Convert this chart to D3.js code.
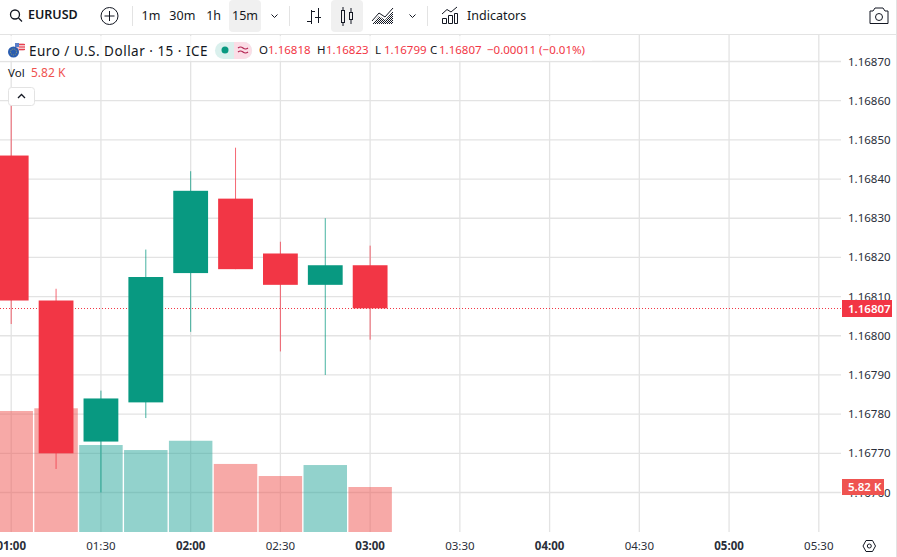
<!DOCTYPE html>
<html>
<head>
<meta charset="utf-8">
<script src="https://cdn.jsdelivr.net/npm/d3@7"></script>
<style>
  html, body { margin: 0; padding: 0; background: #fff; }
  svg { display: block; }
  text { font-family: "Noto Sans", sans-serif; fill: #131722; }
</style>
</head>
<body>
<div id="chart"></div>
<script>
// candle data, 15 min bars
var barHours = ["01:00", "01:15", "01:30", "01:45", "02:00", "02:15", "02:30", "02:45", "03:00"];
var opens = [1.16846, 1.16809, 1.16773, 1.16783, 1.16816, 1.16835, 1.16821, 1.16813, 1.16818];
var highs = [1.16862, 1.16812, 1.16786, 1.16822, 1.16842, 1.16848, 1.16824, 1.16830, 1.16823];
var lows = [1.16803, 1.16766, 1.16760, 1.16779, 1.16801, 1.16817, 1.16796, 1.16790, 1.16799];
var closes = [1.16809, 1.16770, 1.16784, 1.16815, 1.16837, 1.16817, 1.16813, 1.16818, 1.16807];
var volumes = [15.65, 16.0, 11.25, 10.6, 11.8, 8.8, 7.24, 8.66, 5.82];

var priceTicks = [1.16870, 1.16860, 1.16850, 1.16840, 1.16830, 1.16820, 1.16810, 1.16800, 1.16790, 1.16780, 1.16770, 1.16760];
var timeTicks = ["01:00", "01:30", "02:00", "02:30", "03:00", "03:30", "04:00", "04:30", "05:00", "05:30"];
var boldTimes = ["01:00", "02:00", "03:00", "04:00", "05:00"];
var intervals = ["1m", "30m", "1h", "15m"];

var lastClose = 1.16807;
var lastVolume = 5.82;

var svgWidth = 897;
var svgHeight = 557;
var paneRight = 841;
var paneTop = 35;
var paneBottom = 532;

var red = "#F23645";
var green = "#089981";
var volRed = "#EF5350";
var volGreen = "#26A69A";
var gridColor = "#e3e3e3";
var axisText = "#2a2e39";

var svg = d3.select("#chart").append("svg")
  .attr("width", svgWidth)
  .attr("height", svgHeight);

function toTime(s) {
  var p = s.split(":");
  return Date.UTC(2024, 0, 1, +p[0], +p[1]);
}

// scales, fitted to the picture
var xScale = d3.scaleUtc()
  .domain([toTime("01:00"), toTime("05:30")])
  .range([11.2, 818.8]);

var yScale = d3.scaleLinear()
  .domain([1.16760, 1.16870])
  .range([492.5, 61.5]);

var volScale = d3.scaleLinear()
  .domain([0, lastVolume])
  .range([paneBottom, 487]);

var barStep = xScale(toTime("01:15")) - xScale(toTime("01:00"));

// hatch for the area style icon
var hatch = svg.append("defs").append("pattern")
  .attr("id", "hatch")
  .attr("width", 2)
  .attr("height", 2)
  .attr("patternUnits", "userSpaceOnUse");
hatch.append("rect").attr("width", 1).attr("height", 1).attr("fill", "#131722");
hatch.append("rect").attr("x", 1).attr("y", 1).attr("width", 1).attr("height", 1).attr("fill", "#131722");

// grid
var gridGroup = svg.append("g").attr("class", "grid");

gridGroup.selectAll("line.h")
  .data(priceTicks)
  .enter()
  .append("line")
  .attr("class", "h")
  .attr("x1", 0)
  .attr("x2", paneRight)
  .attr("y1", d => yScale(d))
  .attr("y2", d => yScale(d))
  .attr("stroke", gridColor)
  .attr("stroke-width", 1.3);

gridGroup.selectAll("line.v")
  .data(timeTicks)
  .enter()
  .append("line")
  .attr("class", "v")
  .attr("x1", d => xScale(toTime(d)))
  .attr("x2", d => xScale(toTime(d)))
  .attr("y1", paneTop)
  .attr("y2", paneBottom)
  .attr("stroke", gridColor)
  .attr("stroke-width", 1.3);

// volume bars
svg.append("g").selectAll("rect")
  .data(barHours)
  .enter()
  .append("rect")
  .attr("x", d => xScale(toTime(d)) - barStep / 2 + 0.7)
  .attr("width", barStep - 1.4)
  .attr("y", (d, i) => volScale(volumes[i]))
  .attr("height", (d, i) => paneBottom - volScale(volumes[i]))
  .attr("fill", (d, i) => closes[i] < opens[i] ? volRed : volGreen)
  .attr("opacity", 0.5);

// last price line
svg.append("line")
  .attr("x1", 0)
  .attr("x2", paneRight)
  .attr("y1", Math.round(yScale(lastClose)) + 0.5)
  .attr("y2", Math.round(yScale(lastClose)) + 0.5)
  .attr("stroke", red)
  .attr("stroke-dasharray", "1 2");

// candles
var candles = svg.append("g").selectAll("g")
  .data(barHours)
  .enter()
  .append("g")
  .attr("fill", (d, i) => closes[i] < opens[i] ? red : green)
  .attr("stroke", (d, i) => closes[i] < opens[i] ? red : green);

candles.append("line")
  .attr("x1", d => xScale(toTime(d)))
  .attr("x2", d => xScale(toTime(d)))
  .attr("y1", (d, i) => yScale(highs[i]))
  .attr("y2", (d, i) => yScale(lows[i]))
  .attr("stroke-opacity", 0.75);

candles.append("rect")
  .attr("x", d => xScale(toTime(d)) - 17.4)
  .attr("width", 34.8)
  .attr("y", (d, i) => yScale(Math.max(opens[i], closes[i])))
  .attr("height", (d, i) => Math.abs(yScale(opens[i]) - yScale(closes[i])))
  .attr("stroke", "none");

// price axis
var priceAxis = svg.append("g");
priceAxis.append("rect")
  .attr("x", paneRight)
  .attr("y", paneTop)
  .attr("width", svgWidth - paneRight - 1)
  .attr("height", svgHeight - paneTop)
  .attr("fill", "#fff");

priceAxis.selectAll("text")
  .data(priceTicks)
  .enter()
  .append("text")
  .attr("x", 848)
  .attr("y", d => yScale(d) + 4)
  .attr("font-size", 11.5)
  .style("fill", axisText)
  .text(d => d.toFixed(5));

// last price and volume labels
svg.append("rect")
  .attr("x", 842)
  .attr("y", Math.round(yScale(lastClose)) - 8)
  .attr("width", 50)
  .attr("height", 17)
  .attr("fill", red);
svg.append("text")
  .attr("x", 848)
  .attr("y", yScale(lastClose) + 4.5)
  .attr("font-size", 11.5)
  .attr("font-weight", 600)
  .style("fill", "#fff")
  .text(lastClose.toFixed(5));

svg.append("rect")
  .attr("x", 842)
  .attr("y", volScale(lastVolume) - 8)
  .attr("width", 42)
  .attr("height", 16)
  .attr("fill", volRed);
svg.append("text")
  .attr("x", 848)
  .attr("y", volScale(lastVolume) + 4)
  .attr("font-size", 11.5)
  .attr("font-weight", 600)
  .style("fill", "#fff")
  .text(lastVolume + " K");

// time axis
svg.append("rect")
  .attr("x", 0)
  .attr("y", paneBottom)
  .attr("width", paneRight)
  .attr("height", svgHeight - paneBottom)
  .attr("fill", "#fff");

svg.append("g").selectAll("text")
  .data(timeTicks)
  .enter()
  .append("text")
  .attr("x", d => xScale(toTime(d)))
  .attr("y", 550)
  .attr("text-anchor", "middle")
  .attr("font-size", 11.5)
  .attr("font-weight", d => boldTimes.includes(d) ? 700 : 400)
  .style("fill", axisText)
  .text(d => d);

// settings hexagon
svg.append("path")
  .attr("d", "M863 546 L866 540.5 L872.5 540.5 L875.5 546 L872.5 551.5 L866 551.5 Z")
  .attr("fill", "none")
  .attr("stroke", "#131722");
svg.append("circle")
  .attr("cx", 869.3)
  .attr("cy", 546)
  .attr("r", 2)
  .attr("fill", "none")
  .attr("stroke", "#131722");

// right and top borders
svg.append("line").attr("x1", 896.5).attr("x2", 896.5).attr("y1", 0).attr("y2", svgHeight).attr("stroke", gridColor);
svg.append("line").attr("x1", 0).attr("x2", svgWidth).attr("y1", 34.5).attr("y2", 34.5).attr("stroke", gridColor);

// toolbar
var bar = svg.append("g");

bar.append("circle").attr("cx", 15).attr("cy", 14.5).attr("r", 4.5).attr("fill", "none").attr("stroke", "#131722").attr("stroke-width", 1.3);
bar.append("line").attr("x1", 18.5).attr("y1", 18).attr("x2", 22).attr("y2", 21.5).attr("stroke", "#131722").attr("stroke-width", 1.3);
bar.append("text").attr("x", 28).attr("y", 19).attr("font-size", 12.5).attr("font-weight", 600).text("EURUSD");

bar.append("circle").attr("cx", 109.5).attr("cy", 16).attr("r", 8.5).attr("fill", "none").attr("stroke", "#131722");
bar.append("path").attr("d", "M104.5 16 H114.5 M109.5 11 V21").attr("stroke", "#131722");

bar.append("line").attr("x1", 132.5).attr("x2", 132.5).attr("y1", 6).attr("y2", 26).attr("stroke", gridColor);

var intervalX = d3.scalePoint().domain(intervals).range([151, 245]);
bar.append("rect").attr("x", 229).attr("y", 0).attr("width", 32).attr("height", 32).attr("rx", 4).attr("fill", "#f0f0f0");
bar.selectAll("text.iv")
  .data(intervals)
  .enter()
  .append("text")
  .attr("class", "iv")
  .attr("x", d => intervalX(d))
  .attr("y", 20)
  .attr("text-anchor", "middle")
  .attr("font-size", 12.5)
  .text(d => d);

function chevron(cx, cy) {
  bar.append("path")
    .attr("d", `M${cx - 3} ${cy - 1.5} L${cx} ${cy + 1.5} L${cx + 3} ${cy - 1.5}`)
    .attr("fill", "none")
    .attr("stroke", "#131722");
}
chevron(274.5, 16);
bar.append("line").attr("x1", 289.5).attr("x2", 289.5).attr("y1", 6).attr("y2", 26).attr("stroke", gridColor);

// bar style icon
bar.append("path")
  .attr("d", "M311.5 10 V24 M307 21.5 H311.5 M311.5 11.5 H315 M318.5 8 V23 M315 17.5 H321")
  .attr("fill", "none")
  .attr("stroke", "#131722");

// candle style icon, selected
bar.append("rect").attr("x", 331).attr("y", 0).attr("width", 32).attr("height", 32).attr("rx", 4).attr("fill", "#f0f0f0");
bar.append("rect").attr("x", 341.5).attr("y", 10.5).attr("width", 3).attr("height", 12).attr("fill", "none").attr("stroke", "#131722");
bar.append("rect").attr("x", 349.5).attr("y", 12.5).attr("width", 3).attr("height", 7).attr("fill", "none").attr("stroke", "#131722");
bar.append("path").attr("d", "M343 7 V10 M343 23 V26 M351 8 V12 M351 20 V24").attr("stroke", "#131722");

// area style icon
bar.append("path").attr("d", "M372 24 L379 16 L385 20 L393 11 V24 Z").attr("fill", "url(#hatch)");
bar.append("path").attr("d", "M372 21 L379 13 L385 17 L393 8").attr("fill", "none").attr("stroke", "#131722");
chevron(412.5, 16);
bar.append("line").attr("x1", 427.5).attr("x2", 427.5).attr("y1", 6).attr("y2", 26).attr("stroke", gridColor);

// indicators icon
bar.append("path")
  .attr("d", "M442.5 23.5 V18.5 H446.5 V23.5 Z M448.5 23.5 V15.5 H452.5 V23.5 Z M454.5 23.5 V13.5 H457.5 V23.5 Z M442 14 L447 9.5 L451 12 L457 7")
  .attr("fill", "none")
  .attr("stroke", "#131722");
bar.append("text").attr("x", 467).attr("y", 20).attr("font-size", 12.5).text("Indicators");

// camera icon
bar.append("path")
  .attr("d", "M870 11 H873 L875 8 H883 L885 11 H888 V23.5 H870 Z")
  .attr("fill", "none")
  .attr("stroke", "#131722");
bar.append("circle").attr("cx", 879).attr("cy", 17).attr("r", 3.5).attr("fill", "none").attr("stroke", "#131722");

// legend row, the grid shows faintly through its backdrop
var legend = svg.append("g");
legend.append("rect").attr("x", 0).attr("y", 36).attr("width", 592).attr("height", 25).attr("fill", "#fff").attr("opacity", 0.75);

// flag pair
legend.append("rect").attr("x", 15).attr("y", 43).attr("width", 10).attr("height", 8).attr("rx", 2).attr("fill", "#f4c3c8");
legend.append("path").attr("d", "M17 44.5 H25 M19 47 H25 M19 49.5 H25").attr("stroke", "#e8404f").attr("stroke-width", 1.1);
legend.append("rect").attr("x", 15).attr("y", 43).attr("width", 4).attr("height", 4).attr("fill", "#5b7fc9");
legend.append("circle").attr("cx", 13.5).attr("cy", 52).attr("r", 5.5).attr("fill", "#2a5db0");
legend.append("circle").attr("cx", 13.5).attr("cy", 52).attr("r", 3).attr("fill", "none").attr("stroke", "#c8b94a").attr("stroke-width", 0.7).attr("stroke-dasharray", "1 1");

legend.append("text").attr("x", 29).attr("y", 55.5).attr("font-size", 13.5).attr("letter-spacing", 0.5).text("Euro / U.S. Dollar · 15 · ICE");

legend.append("rect").attr("x", 215).attr("y", 42).attr("width", 37).attr("height", 17).attr("rx", 8.5).attr("fill", "#daf0ed");
legend.append("path").attr("d", "M234 42 H243.5 A8.5 8.5 0 0 1 243.5 59 H234 Z").attr("fill", "#fbdde6");
legend.append("circle").attr("cx", 225).attr("cy", 50).attr("r", 3.5).attr("fill", green);
legend.append("path").attr("d", "M238 48 Q240.5 46 243 48 T248 48 M238 52 Q240.5 50 243 52 T248 52").attr("fill", "none").attr("stroke", "#b2224f").attr("stroke-width", 1.2);

var ohlc = [["O", 259], ["H", 317], ["L", 375], ["C", 430]];
var ohlcValues = [opens[8], highs[8], lows[8], closes[8]];
ohlc.forEach(function(d, i) {
  legend.append("text").attr("x", d[1]).attr("y", 54).attr("font-size", 11.5).text(d[0]);
  legend.append("text").attr("x", d[1] + 9).attr("y", 54).attr("font-size", 11.5).style("fill", red).text(ohlcValues[i].toFixed(5));
});
legend.append("text").attr("x", 487).attr("y", 54).attr("font-size", 11.5).style("fill", red).text("−0.00011 (−0.01%)");

legend.append("text").attr("x", 8).attr("y", 77).attr("font-size", 11.5).text("Vol");
legend.append("text").attr("x", 31).attr("y", 77).attr("font-size", 12).style("fill", volRed).text(lastVolume + " K");

legend.append("rect").attr("x", 8.5).attr("y", 87.5).attr("width", 26).attr("height", 18).attr("rx", 3).attr("fill", "#fff").attr("stroke", gridColor);
legend.append("path").attr("d", "M18 98 L21.5 94.5 L25 98").attr("fill", "none").attr("stroke", "#131722").attr("stroke-width", 1.3);
</script>
</body>
</html>
